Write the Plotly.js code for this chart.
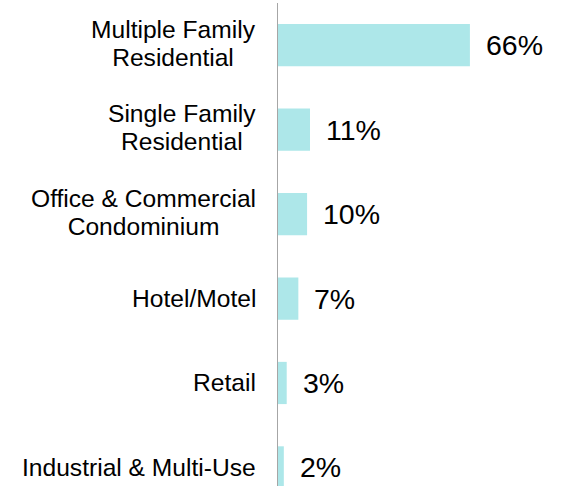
<!DOCTYPE html>
<html><head><meta charset="utf-8">
<script src="https://cdn.plot.ly/plotly-3.0.1.min.js"></script>
<style>html,body{margin:0;padding:0;background:#fff}#chart{width:565px;height:486px}</style>
</head><body><div id="chart"></div>
<script>
const categories = ["Multiple Family<br>Residential", "Single Family<br>Residential", "Office & Commercial<br>Condominium", "Hotel/Motel", "Retail", "Industrial & Multi-Use"];
const values = [66, 11, 10, 7, 3, 2];
const valueLabels = ["66%", "11%", "10%", "7%", "3%", "2%"];

const ids = categories.map((c, i) => "c" + i);

const trace = {
  type: "bar", orientation: "h",
  x: values, y: ids,
  width: 0.5,
  marker: {color: "#ADE7E9"},
  hoverinfo: "none"
};

const LABEL_SIZE = 24.6;
const annotations = [];
categories.forEach((c, i) => {
  annotations.push({xref: "paper", yref: "y", x: 0, y: ids[i], text: c, showarrow: false,
    xanchor: "right", yanchor: "middle", align: "center", xshift: -20,
    font: {family: "Liberation Sans, Arial, sans-serif", size: LABEL_SIZE, color: "#000"}});
  annotations.push({xref: "x", yref: "y", x: values[i], y: ids[i], text: valueLabels[i], showarrow: false,
    xanchor: "left", yanchor: "middle", xshift: 14,
    font: {family: "Liberation Sans, Arial, sans-serif", size: 28.5, color: "#000"}});
});

const layout = {
  width: 565, height: 486,
  margin: {l: 278, r: 0, t: 3, b: 0},
  paper_bgcolor: "#fff", plot_bgcolor: "#fff",
  showlegend: false,
  xaxis: {range: [0, 98.7], visible: false, fixedrange: true},
  yaxis: {type: "category", categoryorder: "array", categoryarray: ids,
    range: [5.22, -0.5], showticklabels: false, showgrid: false, zeroline: false,
    showline: true, linecolor: "#A6A6A6", linewidth: 1, ticks: ""},
  annotations: annotations
};

Plotly.newPlot("chart", [trace], layout, {staticPlot: true, displayModeBar: false}).then(() => {
  // tighten multi-line label spacing to match the reference
  document.querySelectorAll(".annotation-text").forEach(t => {
    const lines = t.querySelectorAll("tspan.line");
    if (lines.length > 1) {
      lines.forEach((ln, k) => { if (k > 0) ln.setAttribute("dy", "1.15em"); });
      const y = parseFloat(t.getAttribute("y") || "0");
      t.setAttribute("y", y + 0.075 * LABEL_SIZE * (lines.length - 1));
    }
  });
});
</script></body></html>
